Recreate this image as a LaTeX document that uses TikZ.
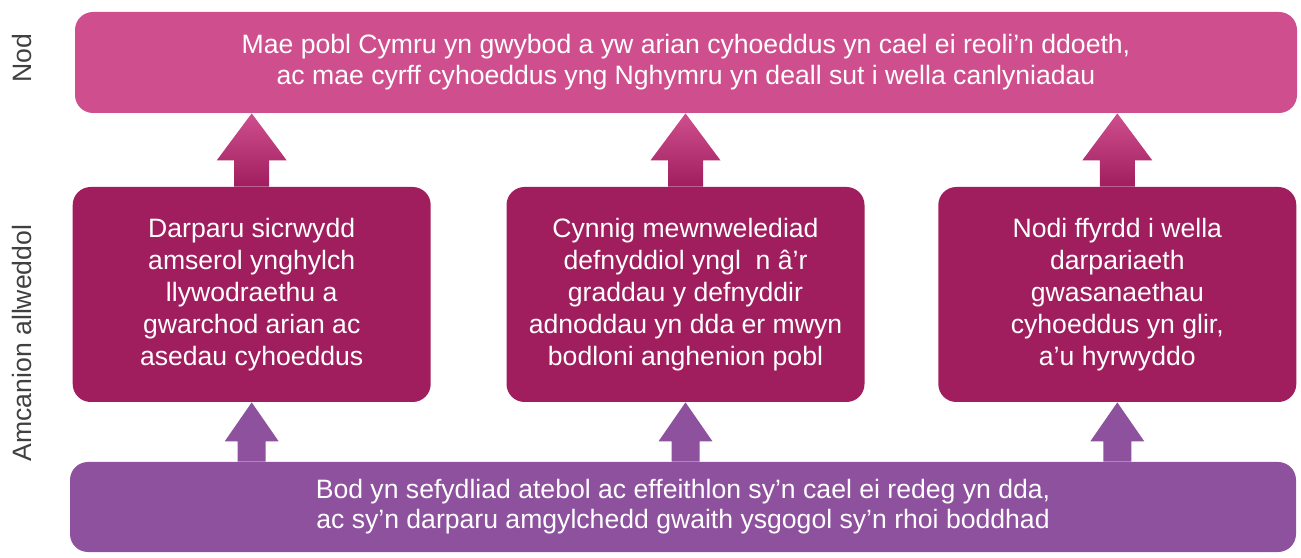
\documentclass[tikz,border=0pt]{standalone}
\usepackage{fontspec}
\setmainfont{Liberation Sans}
\usetikzlibrary{positioning, calc}
\definecolor{nodpink}{HTML}{CF4F8E}
\definecolor{amcanmag}{HTML}{A01E5E}
\definecolor{sefpurple}{HTML}{8E519E}
\definecolor{labelgray}{HTML}{404040}
\begin{document}
\begin{tikzpicture}[x=0.5pt, y=0.5pt,
    box/.style={rectangle, rounded corners=9pt, text=white, align=center, inner sep=0pt,
                font=\fontsize{13.3}{15.5}\selectfont},
    nodbox/.style={box, fill=nodpink, minimum width=611pt, minimum height=50.5pt},
    amcanbox/.style={box, fill=amcanmag, minimum width=179pt, minimum height=107.5pt,
                font=\fontsize{13.3}{16}\selectfont},
    sefbox/.style={box, fill=sefpurple, minimum width=613pt, minimum height=45pt,
                font=\fontsize{13.3}{15}\selectfont},
    sidelabel/.style={rotate=90, text=labelgray, font=\fontsize{13.3}{16}\selectfont}]
    \useasboundingbox (0,0) rectangle (1301,557);
            \node (nod) [nodbox] at (686,494.5) {Mae pobl Cymru yn gwybod a yw arian cyhoeddus yn cael ei reoli’n ddoeth,\\ac mae cyrff cyhoeddus yng Nghymru yn deall sut i wella canlyniadau};
            \node (cynnig) [amcanbox] at (685.5,262.5) {Cynnig mewnwelediad\\defnyddiol yngl\ \ n â’r\\graddau y defnyddir\\adnoddau yn dda er mwyn\\bodloni anghenion pobl};
            \node (darparu) [amcanbox, left=37.5pt of cynnig] {Darparu sicrwydd\\amserol ynghylch\\llywodraethu a\\gwarchod arian ac\\asedau cyhoeddus};
            \node (nodi) [amcanbox, right=36.5pt of cynnig] {Nodi ffyrdd i wella\\darpariaeth\\gwasanaethau\\cyhoeddus yn glir,\\a’u hyrwyddo};
            \node (bod) [sefbox] at (683,50) {Bod yn sefydliad atebol ac effeithlon sy’n cael ei redeg yn dda,\\ac sy’n darparu amgylchedd gwaith ysgogol sy’n rhoi boddhad};

            \node (nodlabel) [sidelabel] at (22,499) {Nod};
            \node (amcanlabel) [sidelabel] at (22,214) {Amcanion allweddol};

            % saethau i fyny at y nod
            \foreach \m in {darparu,cynnig,nodi} {
                \shade[top color=nodpink, bottom color=amcanmag]
                    let \p1=(\m.north), \p2=(nod.south) in
                    (\x1-8.75pt,\y1) -- (\x1-8.75pt,\y2-23.5pt) -- (\x1-17.5pt,\y2-23.5pt) -- (\x1,\y2)
                    -- (\x1+17.5pt,\y2-23.5pt) -- (\x1+8.75pt,\y2-23.5pt) -- (\x1+8.75pt,\y1) -- cycle;
                \fill[sefpurple]
                    let \p1=(\m.south), \p2=(bod.north) in
                    (\x1-7pt,\y2) -- (\x1-7pt,\y1-19.5pt) -- (\x1-13.5pt,\y1-19.5pt) -- (\x1,\y1)
                    -- (\x1+13.5pt,\y1-19.5pt) -- (\x1+7pt,\y1-19.5pt) -- (\x1+7pt,\y2) -- cycle;
            }
        \end{tikzpicture}
\end{document}
